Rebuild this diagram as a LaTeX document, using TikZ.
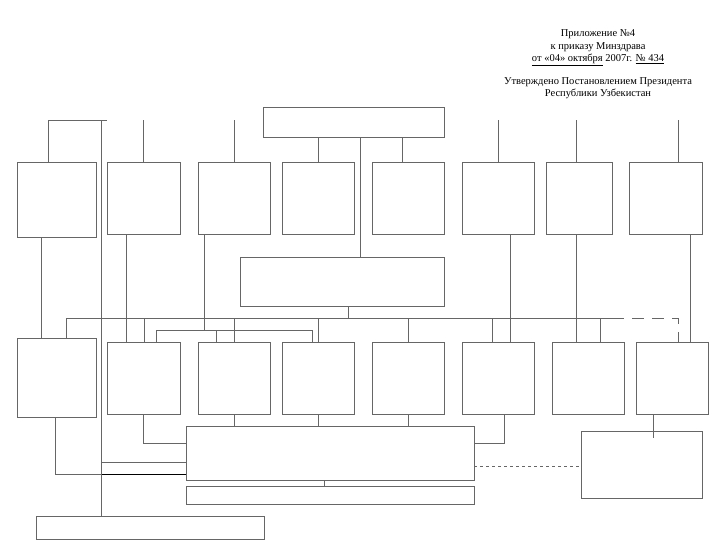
\documentclass[tikz,border=0pt]{standalone}
\usepackage{fontspec}
\setmainfont{Liberation Serif}
\usetikzlibrary{positioning}

\begin{document}
\begin{tikzpicture}[x=1pt,y=-1pt,line width=.9pt,
	ln/.style={draw=black!60},
	blk/.style={draw=black!60,inner sep=0pt,minimum width=72pt,minimum height=72pt}]
	\useasboundingbox (0,0) rectangle (720,540);
	
	% upper row
	\node[blk,minimum width=181pt,minimum height=30pt] (top) at (353.5,122) {};
	\node[blk,minimum width=79pt,minimum height=75pt] (t1) at (56.5,199.5) {};
	\node[blk,minimum width=73pt] (t2) at (143.5,198) {};
	\node[blk] (t3) at (234,198) {};
	\node[blk] (t4) at (318,198) {};
	\node[blk] (t5) at (408,198) {};
	\node[blk] (t6) at (498,198) {};
	\node[blk,minimum width=66pt] (t7) at (579,198) {};
	\node[blk,minimum width=73pt] (t8) at (665.5,198) {};
	\node[blk,minimum width=204pt,minimum height=49pt] (mid) at (342,281.5) {};
	
	% lower row
	\node[blk,minimum width=79pt,minimum height=79pt] (b1) at (56.5,377.5) {};
	\node[blk,minimum width=73pt] (b2) at (143.5,378) {};
	\node[blk] (b3) at (234,378) {};
	\node[blk] (b4) at (318,378) {};
	\node[blk] (b5) at (408,378) {};
	\node[blk] (b6) at (498,378) {};
	\node[blk] (b7) at (588,378) {};
	\node[blk] (b8) at (672,378) {};
	
	\node[blk,minimum width=288pt,minimum height=54pt] (big) at (330,453) {};
	\node[blk,minimum width=288pt,minimum height=18pt] (thin) at (330,495) {};
	\node[blk,minimum width=121pt,minimum height=67pt] (rbox) at (641.5,464.5) {};
	\node[blk,minimum width=228pt,minimum height=23pt] (bot) at (150,527.5) {};
	
	\coordinate (lvl) at (0,120);
	\coordinate (bus) at (0,318);
	\coordinate (bar) at (0,330);
	
	% lines into the upper row
	\draw[ln] (t1.north -| 48,0) -- (48,120) -- (107,120);
	\draw[ln] (101.7,120) -- (bot.north -| 101.7,0);
	\draw[ln] (t2.north) -- (t2.north |- lvl);
	\draw[ln] (t3.north) -- (t3.north |- lvl);
	\draw[ln] (t4.north) -- (t4.north |- top.south);
	\draw[ln] (t5.north -| 402,0) -- (top.south -| 402,0);
	\draw[ln] (top.south -| 360,0) -- (mid.north -| 360,0);
	\draw[ln] (t6.north) -- (t6.north |- lvl);
	\draw[ln] (t7.north -| 576,0) -- (576,120);
	\draw[ln] (t8.north -| 678,0) -- (678,120);
	
	% upper row down
	\draw[ln] (t1.south -| 41,0) -- (b1.north -| 41,0);
	\draw[ln] (t2.south -| 126,0) -- (b2.north -| 126,0);
	\draw[ln] (t3.south -| 204,0) -- (bar -| 204,0);
	\draw[ln] (t6.south -| 510,0) -- (b6.north -| 510,0);
	\draw[ln] (t7.south -| 576,0) -- (b7.north -| 576,0);
	\draw[ln] (t8.south -| 690,0) -- (b8.north -| 690,0);
	
	% bus
	\draw[ln] (mid.south -| 348,0) -- (bus -| 348,0);
	\draw[ln] (b1.north -| 66,0) -- (bus -| 66,0) -- (bus -| 612,0);
	\draw[ln,dash pattern=on 12pt off 8pt] (bus -| 612,0) -- (bus -| 678,0) -- (b8.north -| 678,0);
	\foreach \xx/\bb in {144/b2,234/b3,318/b4,408/b5,492/b6,600/b7}
		\draw[ln] (bus -| \xx,0) -- (\bb.north -| \xx,0);
	\draw[ln] (bar -| 156,0) -- (bar -| 312,0);
	\foreach \xx/\bb in {156/b2,216/b3,312/b4}
		\draw[ln] (bar -| \xx,0) -- (\bb.north -| \xx,0);
	
	% lower row down
	\draw[ln] (b1.south -| 55,0) |- (big.west |- 0,474);
	\draw (101.7,474) -- (big.west |- 0,474);
	\draw[ln] (101.7,462) -- (big.west |- 0,462);
	\draw[ln] (b2.south) |- (big.west |- 0,443);
	\draw[ln] (b3.south) -- (big.north -| b3.south);
	\draw[ln] (b4.south) -- (big.north -| b4.south);
	\draw[ln] (b5.south) -- (big.north -| b5.south);
	\draw[ln] (b6.south -| 504,0) |- (big.east |- 0,443);
	\draw[ln,dashed] (big.east |- 0,466) -- (rbox.west |- 0,466);
	\draw[ln] (b8.south -| 653,0) -- (653,438);
	\draw[ln] (big.south -| 324,0) -- (thin.north -| 324,0);
	
	\node[align=center,font=\fontsize{10.5}{12.2}\selectfont] (note) at (598,64.5)
		{Приложение №4\\к приказу Минздрава\\\underline{от «04» октября} 2007г. \underline{№ 434}\\[11pt]Утверждено Постановлением Президента\\Республики Узбекистан};
\end{tikzpicture}
\end{document}
